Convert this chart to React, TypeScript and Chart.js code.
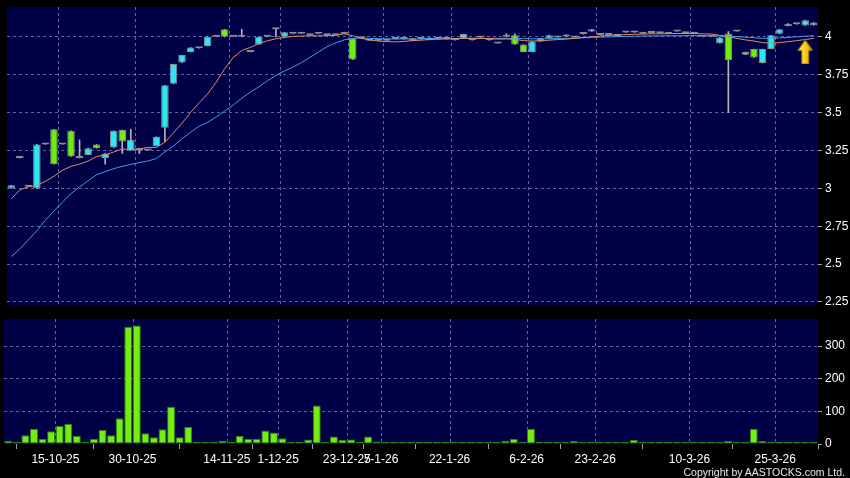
import React, { useEffect, useRef } from 'react';
import { Chart, registerables } from 'chart.js';

Chart.register(...registerables);

// ---------- data ----------
const opens = [3.00,3.20,3.01,3.00,3.29,3.39,3.29,3.38,3.21,3.22, 3.29,3.20,3.27,3.385,3.25,3.265,3.25,3.28,3.40,3.69, 3.83,3.90,3.925,3.94,4.00,4.05,4.00,4.00,3.90,3.95, 4.00,4.05,4.00,4.02,4.02,4.01,4.02,4.01,4.01,4.02, 3.99,3.99,3.975,3.975,3.975,3.985,3.985,3.975,3.985,3.98, 3.99,3.985,3.978,3.99,3.978,3.995,3.978,3.956,4.013,4.01, 3.95,3.90,3.97,3.99,3.996,4.003,3.995,4.018,4.035,4.013, 4.013,4.018,4.028,4.028,4.02,4.025,4.023,4.02,4.035,4.023, 4.02,4.0,4.0,3.958,4.022,4.035,3.882,3.92,3.827,3.92, 4.02,4.072,4.083,4.075,4.077];
const highs = [3.02,3.20,3.01,3.29,3.29,3.39,3.29,3.38,3.32,3.265, 3.29,3.23,3.38,3.385,3.39,3.265,3.25,3.34,3.68,3.82, 3.88,3.93,3.925,4.00,4.00,4.05,4.00,4.05,3.90,4.00, 4.00,4.05,4.03,4.02,4.02,4.01,4.02,4.01,4.01,4.02, 3.99,3.99,3.975,3.975,3.975,3.985,3.985,3.99,3.985,3.995, 3.99,3.985,3.978,4.018,3.978,3.995,3.978,3.956,4.02,4.02, 3.95,3.97,3.99,4.011,3.996,4.013,3.995,4.018,4.05,4.013, 4.013,4.018,4.028,4.028,4.02,4.025,4.023,4.02,4.035,4.023, 4.02,4.0,4.0,3.996,4.035,4.035,3.90,3.92,3.92,4.01, 4.05,4.087,4.083,4.11,4.094];
const lows = [3.00,3.20,3.01,3.00,3.29,3.16,3.29,3.21,3.20,3.22, 3.265,3.16,3.27,3.23,3.25,3.23,3.25,3.28,3.31,3.69, 3.83,3.90,3.925,3.94,4.00,4.00,4.00,4.00,3.90,3.95, 4.00,4.00,4.00,4.02,4.02,4.01,4.02,4.01,4.01,4.02, 3.85,3.99,3.975,3.975,3.975,3.985,3.985,3.975,3.985,3.98, 3.985,3.985,3.978,3.99,3.978,3.995,3.978,3.956,4.0,3.95, 3.90,3.90,3.97,3.99,3.996,4.003,3.995,4.018,4.035,4.013, 4.013,4.003,4.028,4.028,4.02,4.025,4.023,4.02,4.035,4.023, 4.02,4.0,4.0,3.958,3.5,4.035,3.882,3.864,3.827,3.92, 4.02,4.072,4.083,4.075,4.077];
const closes = [3.02,3.20,3.01,3.29,3.29,3.16,3.29,3.21,3.20,3.265, 3.265,3.23,3.38,3.31,3.32,3.25,3.25,3.34,3.68,3.82, 3.88,3.93,3.925,4.00,4.00,4.00,4.00,4.00,3.90,4.00, 4.00,4.05,4.03,4.02,4.02,4.01,4.02,4.01,4.01,4.02, 3.85,3.99,3.975,3.975,3.975,3.985,3.985,3.99,3.985,3.995, 3.985,3.985,3.978,4.018,3.978,3.995,3.978,3.956,4.0,3.95, 3.90,3.97,3.99,4.011,3.996,4.013,3.995,4.018,4.05,4.013, 4.013,4.003,4.028,4.028,4.02,4.025,4.023,4.02,4.035,4.023, 4.02,4.0,4.0,3.996,3.847,4.035,3.90,3.864,3.92,4.01, 4.05,4.087,4.083,4.11,4.094];
const maShort = [2.93,2.99,3.01,3.02,3.046,3.08,3.12,3.145,3.16,3.18, 3.21,3.22,3.24,3.26,3.256,3.26,3.27,3.27,3.305,3.366, 3.43,3.50,3.565,3.623,3.70,3.79,3.864,3.91,3.93,3.956, 3.974,3.987,3.996,4.003,4.005,4.007,4.007,4.008,4.01,4.02, 4.007,3.99,3.98,3.972,3.968,3.967,3.97,3.975,3.978,3.982, 3.985,3.986,3.987,3.99,3.99,3.99,3.988,3.985,3.986,3.983, 3.975,3.972,3.974,3.978,3.982,3.985,3.99,3.995,4.0,4.005, 4.01,4.012,4.015,4.017,4.018,4.02,4.02,4.021,4.022,4.022, 4.022,4.02,4.018,4.01,4.0,3.99,3.98,3.972,3.962,3.958, 3.962,3.968,3.975,3.982,3.99];
const maLong = [2.55,2.60,2.66,2.72,2.79,2.85,2.91,2.965,3.01,3.05, 3.09,3.11,3.13,3.145,3.158,3.17,3.18,3.197,3.24,3.28, 3.327,3.37,3.41,3.436,3.47,3.51,3.55,3.595,3.635,3.67, 3.71,3.745,3.775,3.80,3.83,3.865,3.90,3.935,3.96,3.98, 3.99,3.992,3.99,3.988,3.987,3.986,3.986,3.986,3.987,3.988, 3.988,3.988,3.989,3.99,3.99,3.99,3.99,3.99,3.99,3.99, 3.988,3.987,3.987,3.988,3.989,3.99,3.992,3.994,3.996,3.998, 4.0,4.002,4.003,4.004,4.005,4.006,4.006,4.007,4.007,4.008, 4.008,4.008,4.007,4.006,4.004,4.002,3.998,3.994,3.99,3.99, 3.993,3.997,4.0,4.004,4.008];
const volumes = [10,1,27,47,16,39,55,62,25,1, 16,43,27,79,359,363,33,21,45,114, 21,52,2,3,1,10,1,25,16,16, 41,35,18,3,1,14,118,4,23,12, 14,2,23,8,1,1,6,2,2,1, 1,1,1,3,1,1,3,1,10,15, 6,47,3,3,1,1,9,1,1,3, 1,3,1,13,1,1,1,1,1,1, 1,3,1,6,9,1,1,47,9,4, 4,1,1,4,1];
const tickIndex = [5, 14, 25, 31, 39, 43, 51, 60, 68, 79, 89];
const tickText = ['15-10-25', '30-10-25', '14-11-25', '1-12-25', '23-12-25', '7-1-26', '22-1-26', '6-2-26', '23-2-26', '10-3-26', '25-3-26'];
const priceTicks = [2.25, 2.5, 2.75, 3, 3.25, 3.5, 3.75, 4];
const volumeTicks = [0, 100, 200, 300];
const arrowIndex = 93;
const arrowValue = 3.9;

// ---------- styling ----------
const NAVY = '#000046';
const GRID = 'rgba(115,115,170,0.85)';
const FONT = '"Liberation Sans", Arial, sans-serif';
const UP = '#2ee6f2';
const DOWN = '#6cee10';
const FLAT = '#8c8c8c';

const labels = opens.map((_, i) => String(i));

const plotBg = {
  id: 'plotBg',
  beforeDraw(chart: any) {
    const { ctx, chartArea: a } = chart;
    ctx.save();
    ctx.fillStyle = '#000';
    ctx.fillRect(0, 0, chart.width, chart.height);
    ctx.fillStyle = NAVY;
    ctx.fillRect(a.left, a.top, a.right - a.left, a.bottom - a.top);
    ctx.restore();
  },
};

const vGrid = {
  id: 'vGrid',
  beforeDatasetsDraw(chart: any) {
    const { ctx, chartArea: a } = chart;
    const xs = chart.scales.x;
    ctx.save();
    ctx.strokeStyle = GRID;
    ctx.lineWidth = 1;
    ctx.setLineDash([3, 3]);
    tickIndex.forEach((idx) => {
      const x = Math.round(xs.getPixelForValue(idx + 0.5)) + 0.5;
      ctx.beginPath();
      ctx.moveTo(x, a.top);
      ctx.lineTo(x, a.bottom);
      ctx.stroke();
    });
    ctx.restore();
  },
};

function makeArrow() {
  const c = document.createElement('canvas');
  c.width = 16;
  c.height = 25;
  const g = c.getContext('2d')!;
  const grad = g.createLinearGradient(0, 0, 16, 0);
  grad.addColorStop(0, '#fff5a8');
  grad.addColorStop(0.45, '#ffd21e');
  grad.addColorStop(1, '#d88a00');
  g.beginPath();
  g.moveTo(8, 0.5);
  g.lineTo(15.5, 11);
  g.lineTo(11.5, 11);
  g.lineTo(11.5, 24.5);
  g.lineTo(4.5, 24.5);
  g.lineTo(4.5, 11);
  g.lineTo(0.5, 11);
  g.closePath();
  g.fillStyle = grad;
  g.fill();
  g.strokeStyle = '#9a6400';
  g.lineWidth = 1;
  g.stroke();
  return c;
}

const yTickFont = { family: FONT, size: 12 };

function fixY(s: any) {
  s.width = 32;
  s.paddingTop = 0;
  s.paddingBottom = 0;
}

export default function App() {
  const topRef = useRef<HTMLCanvasElement>(null);
  const botRef = useRef<HTMLCanvasElement>(null);

  useEffect(() => {
    const bodies = opens.map((o, i) => [o, closes[i]]);
    const wicks = opens.map((_, i) => [lows[i], highs[i]]);
    const bodyColors = opens.map((o, i) => (closes[i] > o ? UP : closes[i] < o ? DOWN : FLAT));
    const arrowData = opens.map((_, i) => (i === arrowIndex ? arrowValue : null));

    const top = new Chart(topRef.current!, {
      type: 'bar',
      data: {
        labels,
        datasets: [
          { type: 'line', data: arrowData as any, showLine: false, pointStyle: makeArrow() as any, pointRadius: 6, order: -3 } as any,
          { type: 'line', data: maShort, borderColor: '#e58a5e', borderWidth: 1, pointRadius: 0, tension: 0, order: -2 } as any,
          { type: 'line', data: maLong, borderColor: '#3d9fe8', borderWidth: 1, pointRadius: 0, tension: 0, order: -1 } as any,
          { type: 'bar', data: bodies as any, backgroundColor: bodyColors, borderColor: FLAT, borderWidth: 1, borderSkipped: false, grouped: false, barPercentage: 0.88, categoryPercentage: 1, minBarLength: 2, order: 0 } as any,
          { type: 'bar', data: wicks as any, backgroundColor: '#b4b4b4', barThickness: 1, grouped: false, order: 1 } as any,
        ],
      },
      options: {
        responsive: false,
        maintainAspectRatio: false,
        devicePixelRatio: 1,
        animation: false,
        events: [],
        layout: { padding: { left: 4, top: 6, bottom: 7, right: 0 } },
        plugins: { legend: { display: false }, tooltip: { enabled: false } },
        scales: {
          x: { type: 'category', display: false, offset: true },
          y: {
            position: 'right',
            min: 2.23,
            max: 4.197,
            afterBuildTicks: (s: any) => { s.ticks = priceTicks.map((v) => ({ value: v })); },
            afterFit: fixY,
            grid: { color: GRID, tickColor: '#a0a0a0', tickLength: 4, lineWidth: 1 },
            border: { display: false, dash: [3, 3] },
            ticks: { color: '#ffffff', font: yTickFont, padding: 3, callback: (v: any) => String(v) },
          },
        },
      },
      plugins: [plotBg, vGrid],
    } as any);

    const bot = new Chart(botRef.current!, {
      type: 'bar',
      data: {
        labels,
        datasets: [
          { data: volumes, backgroundColor: '#74ee12', borderColor: '#2f7f0c', borderWidth: 1, borderSkipped: false, barPercentage: 0.93, categoryPercentage: 1, minBarLength: 2 } as any,
        ],
      },
      options: {
        responsive: false,
        maintainAspectRatio: false,
        devicePixelRatio: 1,
        animation: false,
        events: [],
        layout: { padding: { left: 4, top: 7, bottom: 0, right: 0 } },
        plugins: { legend: { display: false }, tooltip: { enabled: false } },
        scales: {
          x: {
            type: 'category',
            offset: true,
            afterBuildTicks: (s: any) => { s.ticks = tickIndex.map((i) => ({ value: i + 0.5 })); },
            afterFit: (s: any) => { s.height = 34; s.paddingLeft = 0; s.paddingRight = 0; },
            grid: { drawOnChartArea: false, drawTicks: true, tickLength: 5, color: '#a0a0a0' },
            border: { display: false },
            ticks: { autoSkip: false, maxRotation: 0, minRotation: 0, color: '#ffffff', font: yTickFont, padding: 3, callback: (_v: any, i: number) => tickText[i] },
          },
          y: {
            position: 'right',
            min: 0,
            max: 383,
            afterBuildTicks: (s: any) => { s.ticks = volumeTicks.map((v) => ({ value: v })); },
            afterFit: fixY,
            grid: { color: (c: any) => (c.tick && c.tick.value === 0 ? 'rgba(0,0,0,0)' : GRID), tickColor: '#a0a0a0', tickLength: 4, lineWidth: 1 },
            border: { display: false, dash: [3, 3] },
            ticks: { color: '#ffffff', font: yTickFont, padding: 3, callback: (v: any) => String(v) },
          },
        },
      },
      plugins: [plotBg, vGrid],
    } as any);

    return () => {
      top.destroy();
      bot.destroy();
    };
  }, []);

  return (
    <div style={{ position: 'fixed', left: 0, top: 0, width: 850, height: 478, background: '#000', overflow: 'hidden' }}>
      <canvas ref={topRef} width={850} height={312} style={{ position: 'absolute', left: 0, top: 0, display: 'block' }} />
      <canvas ref={botRef} width={850} height={166} style={{ position: 'absolute', left: 0, top: 312, display: 'block' }} />
      <span style={{ position: 'absolute', right: 5, top: 465, fontFamily: FONT, fontSize: 10.5, letterSpacing: '0px', color: '#e8e8e8', whiteSpace: 'nowrap', lineHeight: '14px' }}>
        Copyright by AASTOCKS.com Ltd.
      </span>
    </div>
  );
}
